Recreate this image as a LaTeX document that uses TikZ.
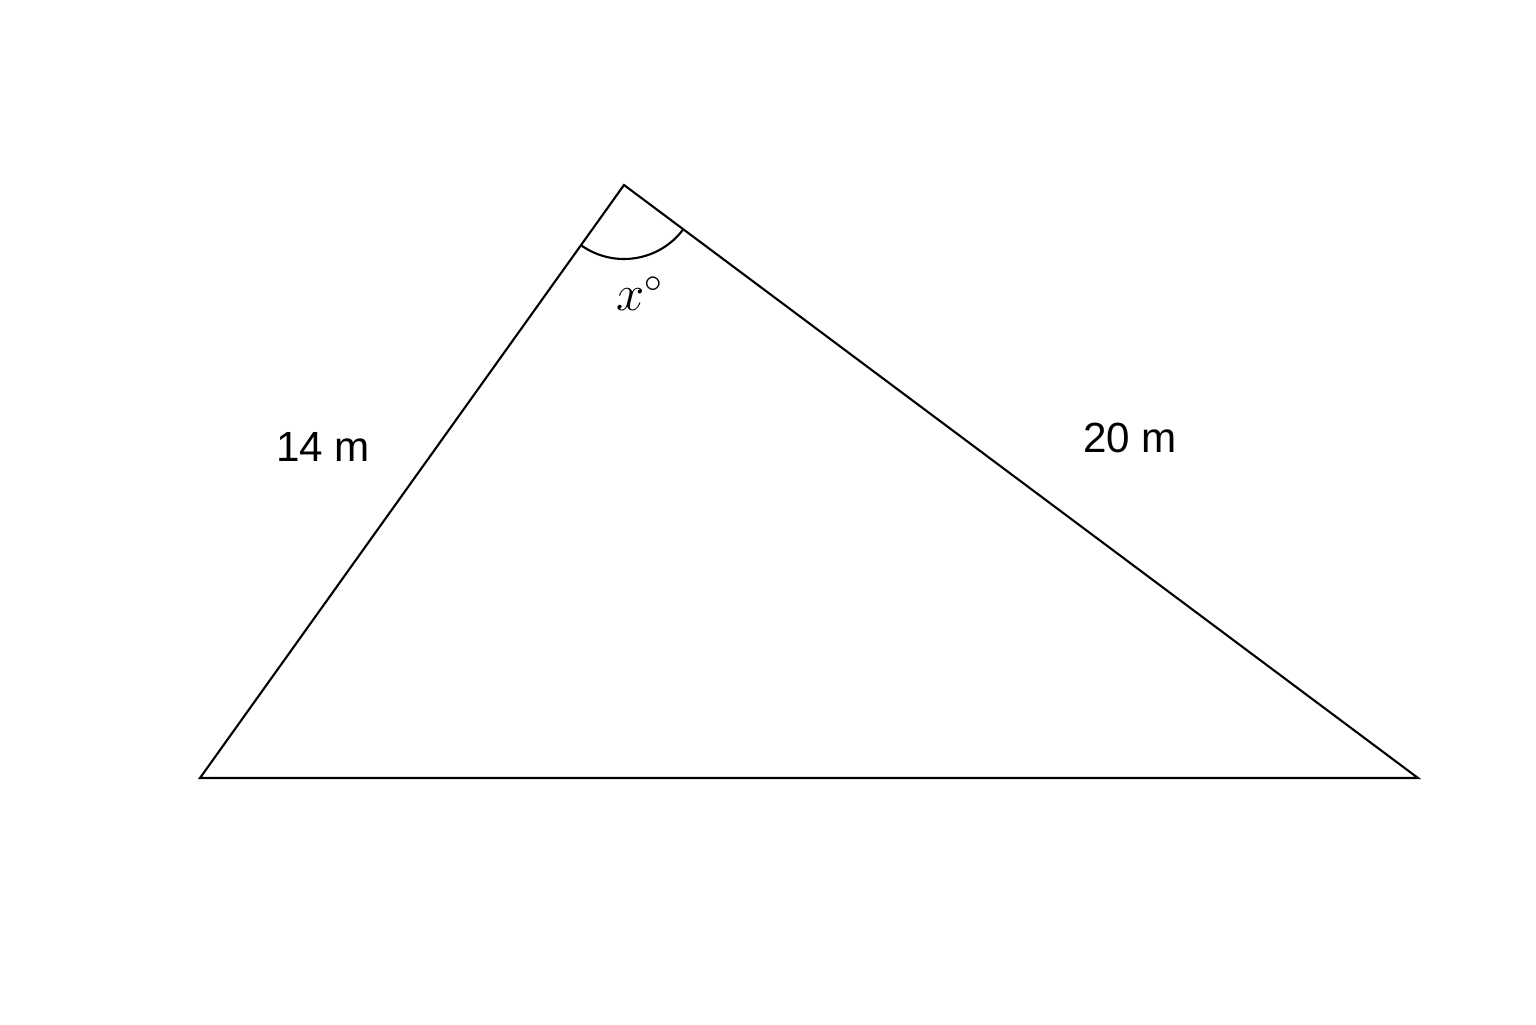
\documentclass[tikz,border=0pt]{standalone}
\usepackage{fontspec}
\setmainfont{Liberation Sans}
\usetikzlibrary{calc}

\begin{document}
\begin{tikzpicture}[side/.style={font=\fontsize{12}{14}\selectfont}]
\useasboundingbox (0,0) rectangle (15.36,10.24);
\coordinate (A) at (2.00,2.46);
\coordinate (B) at (14.18,2.46);
\coordinate (C) at (6.24,8.39);
\draw [line width=0.6pt,line join=miter] (A) -- (B) -- (C) -- cycle;
% angle at the top
\draw [line width=0.6pt] ($(C)+(234.4:0.74)$) arc (234.4:323.3:0.74);
\node (x) at (6.40,7.30) {\fontsize{14}{16}\selectfont$x^\circ$};
\node [side] (AC) at (3.23,5.77) {14 m};
\node [side] (CB) at (11.30,5.86) {20 m};
\end{tikzpicture}
\end{document}
